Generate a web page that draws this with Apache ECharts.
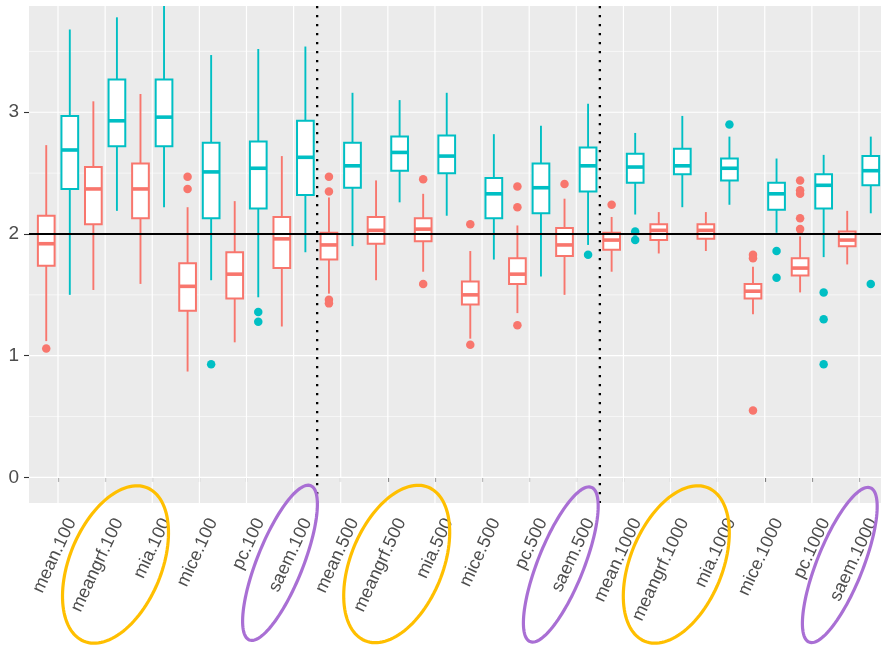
<!DOCTYPE html>
<html>
<head>
<meta charset="utf-8">
<script src="https://cdn.jsdelivr.net/npm/echarts@6/dist/echarts.min.js"></script>
<style>
  html, body { margin: 0; padding: 0; background: #ffffff; }
  #chart { width: 891px; height: 658px; }
</style>
</head>
<body>
<div id="chart"></div>
<script>
// Method labels, one per box pair
const categories = [
  'mean.100', 'meangrf.100', 'mia.100', 'mice.100', 'pc.100', 'saem.100',
  'mean.500', 'meangrf.500', 'mia.500', 'mice.500', 'pc.500', 'saem.500',
  'mean.1000', 'meangrf.1000', 'mia.1000', 'mice.1000', 'pc.1000', 'saem.1000'
];

// Box summaries: [lower whisker, Q1, median, Q3, upper whisker]
const redBoxes = [
  [1.12, 1.74, 1.92, 2.15, 2.73],
  [1.54, 2.08, 2.37, 2.55, 3.09],
  [1.59, 2.13, 2.37, 2.58, 3.15],
  [0.87, 1.37, 1.57, 1.76, 2.22],
  [1.11, 1.47, 1.67, 1.85, 2.27],
  [1.24, 1.72, 1.96, 2.14, 2.64],
  [1.51, 1.79, 1.91, 2.01, 2.30],
  [1.62, 1.92, 2.03, 2.14, 2.44],
  [1.69, 1.94, 2.04, 2.13, 2.33],
  [1.14, 1.42, 1.50, 1.61, 1.86],
  [1.35, 1.59, 1.67, 1.80, 2.07],
  [1.50, 1.82, 1.91, 2.05, 2.29],
  [1.69, 1.87, 1.95, 2.01, 2.14],
  [1.84, 1.95, 2.03, 2.08, 2.18],
  [1.86, 1.96, 2.03, 2.08, 2.18],
  [1.34, 1.47, 1.53, 1.59, 1.73],
  [1.52, 1.66, 1.72, 1.80, 1.98],
  [1.75, 1.90, 1.95, 2.02, 2.19]
];

const tealBoxes = [
  [1.50, 2.37, 2.69, 2.97, 3.68],
  [2.19, 2.72, 2.93, 3.27, 3.78],
  [2.22, 2.72, 2.96, 3.27, 3.90],
  [1.62, 2.13, 2.51, 2.75, 3.47],
  [1.48, 2.21, 2.54, 2.76, 3.52],
  [1.85, 2.32, 2.63, 2.93, 3.54],
  [1.90, 2.38, 2.56, 2.75, 3.16],
  [2.26, 2.52, 2.67, 2.80, 3.10],
  [2.15, 2.50, 2.64, 2.81, 3.16],
  [1.79, 2.13, 2.33, 2.46, 2.82],
  [1.65, 2.17, 2.38, 2.58, 2.89],
  [1.91, 2.35, 2.56, 2.71, 3.07],
  [2.16, 2.42, 2.55, 2.66, 2.83],
  [2.22, 2.49, 2.56, 2.70, 2.97],
  [2.24, 2.44, 2.54, 2.62, 2.80],
  [2.01, 2.20, 2.33, 2.42, 2.62],
  [1.81, 2.21, 2.40, 2.49, 2.65],
  [2.17, 2.40, 2.52, 2.64, 2.80]
];

// Points beyond the whiskers, per category
const redOutliers = [
  [1.06], [], [], [2.47, 2.37], [], [],
  [2.47, 2.35, 1.46, 1.43], [], [2.45, 1.59], [2.08, 1.09], [2.39, 2.22, 1.25], [2.41],
  [2.24], [], [], [1.83, 1.80, 0.55], [2.44, 2.36, 2.33, 2.13, 2.04], []
];

const tealOutliers = [
  [], [], [], [0.93], [1.36, 1.28], [],
  [], [], [], [], [], [1.83],
  [2.02, 1.95], [], [2.90], [1.86, 1.64], [1.52, 1.30, 0.93], [1.59]
];

const yTicks = [0, 1, 2, 3];
const yMinor = [0.5, 1.5, 2.5, 3.5];
const refValue = 2;
const groupBreaks = [6.5, 12.5];

const RED = '#F8766D';
const TEAL = '#00BFC4';
const X_MIN = 0.384, X_MAX = 18.467;
const Y_MIN = -0.21, Y_MAX = 3.873;
const DODGE = 0.25;
const BOX_W = 0.355;
const positions = categories.map((c, i) => i + 1);

function boxSeries(name, boxes, color, shift) {
  return {
    type: 'custom',
    name: name,
    z: 3,
    clip: true,
    silent: true,
    data: boxes.map((b, i) => [i + 1 + shift].concat(b)),
    encode: { x: 0, y: [1, 2, 3, 4, 5] },
    renderItem: function (params, api) {
      const x = api.value(0);
      const lo = api.coord([x, api.value(1)]);
      const q1 = api.coord([x, api.value(2)]);
      const md = api.coord([x, api.value(3)]);
      const q3 = api.coord([x, api.value(4)]);
      const hi = api.coord([x, api.value(5)]);
      const w = api.size([BOX_W, 0])[0];
      const cx = lo[0];
      return {
        type: 'group',
        children: [
          { type: 'line', shape: { x1: cx, y1: q3[1], x2: cx, y2: hi[1] }, style: { stroke: color, lineWidth: 1.9 } },
          { type: 'line', shape: { x1: cx, y1: lo[1], x2: cx, y2: q1[1] }, style: { stroke: color, lineWidth: 1.9 } },
          { type: 'rect', shape: { x: cx - w / 2, y: q3[1], width: w, height: q1[1] - q3[1] },
            style: { fill: '#ffffff', stroke: color, lineWidth: 2.0 } },
          { type: 'line', shape: { x1: cx - w / 2, y1: md[1], x2: cx + w / 2, y2: md[1] },
            style: { stroke: color, lineWidth: 3.6 } }
        ]
      };
    }
  };
}

function outlierSeries(name, outliers, color, shift) {
  const pts = [];
  outliers.forEach((list, i) => list.forEach(v => pts.push([i + 1 + shift, v])));
  return {
    type: 'scatter', name: name, z: 4, silent: true,
    symbol: 'circle', symbolSize: 8.5,
    itemStyle: { color: color, opacity: 1 },
    data: pts
  };
}

function hLineSeries(values, color, width, z, dash) {
  return {
    type: 'custom', z: z, silent: true,
    data: values.map(v => [X_MIN, v]),
    encode: { x: 0, y: 1 },
    renderItem: function (params, api) {
      const cs = params.coordSys;
      const y = api.coord([X_MIN, api.value(1)])[1];
      return { type: 'line', shape: { x1: cs.x, y1: y, x2: cs.x + cs.width, y2: y },
        style: { stroke: color, lineWidth: width, lineDash: dash || null } };
    }
  };
}

function vLineSeries(values, color, width, z, dash) {
  return {
    type: 'custom', z: z, silent: true,
    data: values.map(v => [v, Y_MIN]),
    encode: { x: 0, y: 1 },
    renderItem: function (params, api) {
      const cs = params.coordSys;
      const x = api.coord([api.value(0), Y_MIN])[0];
      return { type: 'line', shape: { x1: x, y1: cs.y, x2: x, y2: cs.y + cs.height },
        style: { stroke: color, lineWidth: width, lineDash: dash || null, lineCap: 'butt' } };
    }
  };
}

// Hand-drawn style ellipses around selected method labels
function ellipsePoints(cx, cy, a, b, deg) {
  const t = deg * Math.PI / 180;
  const pts = [];
  for (let k = 0; k < 120; k++) {
    const s = k / 120 * Math.PI * 2;
    const ex = a * Math.cos(s), ey = b * Math.sin(s);
    pts.push([cx + ex * Math.cos(t) + ey * Math.sin(t), cy - ex * Math.sin(t) + ey * Math.cos(t)]);
  }
  return pts;
}
const YELLOW = '#FFBF00';
const PURPLE = '#A96FD4';
const ringSpecs = [
  [115.5, 564.5, 83, 46, 67.6, YELLOW],
  [396.7, 564.0, 83, 46, 67.6, YELLOW],
  [676.3, 564.5, 83, 46, 67.6, YELLOW],
  [280.0, 562.8, 83, 23, 68.3, PURPLE],
  [560.8, 564.5, 83, 23, 68.3, PURPLE],
  [839.8, 565.0, 83, 23, 68.3, PURPLE]
];

const chart = echarts.init(document.getElementById('chart'), null, { renderer: 'canvas' });
const textStyle = { fontFamily: 'Liberation Sans, Arial, sans-serif', color: '#4D4D4D' };

chart.setOption({
  animation: false,
  backgroundColor: '#ffffff',
  textStyle: textStyle,
  grid: {
    left: 29, right: 10, top: 6, bottom: 155,
    show: true, backgroundColor: '#EBEBEB', borderWidth: 0,
    outerBoundsMode: 'none', containLabel: false
  },
  xAxis: {
    type: 'value', min: X_MIN, max: X_MAX,
    axisLine: { show: false },
    splitLine: { show: false },
    axisTick: { show: true, customValues: positions, length: 4.5, lineStyle: { color: '#333333', width: 1.1 } },
    axisLabel: {
      customValues: positions,
      formatter: v => categories[Math.round(v) - 1],
      rotate: 65, fontSize: 18, color: '#4D4D4D',
      fontFamily: 'Liberation Sans, Arial, sans-serif',
      margin: 10, verticalAlign: 'top', align: 'right',
      padding: [6, 0, 0, 0]
    }
  },
  yAxis: {
    type: 'value', min: Y_MIN, max: Y_MAX,
    axisLine: { show: false },
    splitLine: { show: false },
    axisTick: { show: true, customValues: yTicks, length: 5, lineStyle: { color: '#333333', width: 1.1 } },
    axisLabel: {
      customValues: yTicks, fontSize: 19, color: '#4D4D4D',
      fontFamily: 'Liberation Sans, Arial, sans-serif', margin: 10
    }
  },
  series: [
    hLineSeries(yMinor, '#ffffff', 0.6, 1),
    hLineSeries(yTicks, '#ffffff', 1.2, 1),
    vLineSeries(positions, '#ffffff', 1.2, 1),
    boxSeries('red', redBoxes, RED, -DODGE),
    boxSeries('teal', tealBoxes, TEAL, DODGE),
    outlierSeries('redOut', redOutliers, RED, -DODGE),
    outlierSeries('tealOut', tealOutliers, TEAL, DODGE),
    hLineSeries([refValue], '#000000', 1.9, 6),
    vLineSeries(groupBreaks, '#000000', 2.3, 6, [2.3, 6.7])
  ],
  graphic: ringSpecs.map(r => ({
    type: 'polygon', silent: true, z: 10,
    shape: { points: ellipsePoints(r[0], r[1], r[2], r[3], r[4]) },
    style: { fill: 'none', stroke: r[5], lineWidth: 3.2 }
  }))
});
</script>
</body>
</html>
